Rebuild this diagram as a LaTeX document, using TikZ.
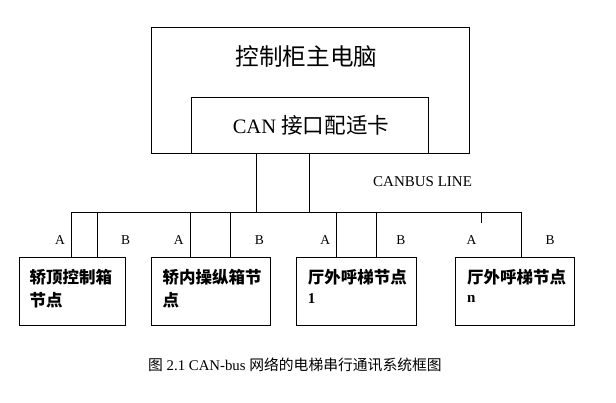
\documentclass[tikz,border=0pt]{standalone}
\usepackage{fontspec}
\setmainfont{Liberation Serif}
\newfontfamily\cjk{Noto Sans CJK SC}
\begin{document}
\begin{tikzpicture}[x=1pt,y=-1pt,
  boxline/.style={draw=black, line width=0.9pt},
  wire/.style={draw=black, line width=0.9pt},
  nodebox/.style={boxline, anchor=north west, inner sep=0pt, minimum width=#1},
  nodetext/.style={anchor=west, inner sep=0pt, font=\cjk\bfseries\fontsize{16.5}{16.5}\selectfont},
  nodenum/.style={anchor=west, inner sep=0pt, font=\bfseries\fontsize{15}{15}\selectfont},
  ablabel/.style={inner sep=0pt, font=\fontsize{13.5}{13.5}\selectfont}
]
\useasboundingbox (0,0) rectangle (616,403);
% host computer
\node[nodebox=318pt, minimum height=126pt] (host) at (150.5,27) {};
\node[font=\cjk\fontsize{23.6}{23.6}\selectfont, inner sep=0pt] (hostt) at (306.5,57) {控制柜主电脑};
\node[nodebox=237.7pt, minimum height=56pt] (card) at (190.6,97) {};
\node[inner sep=0pt, font=\fontsize{20.5}{20.5}\selectfont] (cardt) at (311,125) {CAN {\cjk\fontsize{21.6}{21.6}\selectfont 接口配适卡}};
% bus
\coordinate (busL) at (71.5,212);
\coordinate (busR) at (521.4,212);
\coordinate (t1) at (256.6,212);
\coordinate (t2) at (309.6,212);
\draw[wire] (card.south west -| t1) -- (t1);
\draw[wire] (card.south west -| t2) -- (t2);
\draw[wire] (busL) -- (busR);
\node[inner sep=0pt, font=\fontsize{15}{15}\selectfont, anchor=west] (canbus) at (373,182) {CANBUS LINE};
% node boxes
\node[nodebox=106pt, minimum height=68pt] (n1) at (18.5,257) {};
\node[nodebox=119pt, minimum height=68pt] (n2) at (150.5,257) {};
\node[nodebox=119.4pt, minimum height=68pt] (n3) at (296.3,257) {};
\node[nodebox=119pt, minimum height=68pt] (n4) at (455.4,257) {};
% drops
\coordinate (d1a) at (71.5,212);  \coordinate (d1b) at (97.4,212);
\coordinate (d2a) at (190.6,212); \coordinate (d2b) at (230.3,212);
\coordinate (d3a) at (336.7,212); \coordinate (d3b) at (376,212);
\coordinate (d4a) at (481.7,212); \coordinate (d4b) at (521.4,212);
\coordinate (d4aend) at (481.7,223);
\draw[wire] (d1a) -- (d1a |- n1.north);
\draw[wire] (d1b) -- (d1b |- n1.north);
\draw[wire] (d2a) -- (d2a |- n2.north);
\draw[wire] (d2b) -- (d2b |- n2.north);
\draw[wire] (d3a) -- (d3a |- n3.north);
\draw[wire] (d3b) -- (d3b |- n3.north);
\draw[wire] (d4a) -- (d4aend);
\draw[wire] (d4b) -- (d4b |- n4.north);
% A/B labels
\node[ablabel] (a1) at (60,240.5) {A};    \node[ablabel] (b1) at (125.7,240.5) {B};
\node[ablabel] (a2) at (178.8,240.5) {A}; \node[ablabel] (b2) at (259.3,240.5) {B};
\node[ablabel] (a3) at (325.3,240.5) {A}; \node[ablabel] (b3) at (400.8,240.5) {B};
\node[ablabel] (a4) at (471.5,240.5) {A}; \node[ablabel] (b4) at (550,240.5) {B};
% node texts
\node[nodetext] (n1t1) at (29.5,277) {轿顶控制箱};
\node[nodetext] (n1t2) at (29.5,300) {节点};
\node[nodetext] (n2t1) at (162.3,277) {轿内操纵箱节};
\node[nodetext] (n2t2) at (162.3,300) {点};
\node[nodetext] (n3t1) at (307.7,277) {厅外呼梯节点};
\node[nodenum] (n3t2) at (307.7,299) {1};
\node[nodetext] (n4t1) at (466.8,277) {厅外呼梯节点};
\node[nodenum] (n4t2) at (466.8,299) {n};
% caption
\node[anchor=west, inner sep=0pt, font=\fontsize{14.8}{14.8}\selectfont] (cap) at (148,365) {{\cjk 图} 2.1 CAN-bus {\cjk 网络的电梯串行通讯系统框图}};
\end{tikzpicture}
\end{document}
